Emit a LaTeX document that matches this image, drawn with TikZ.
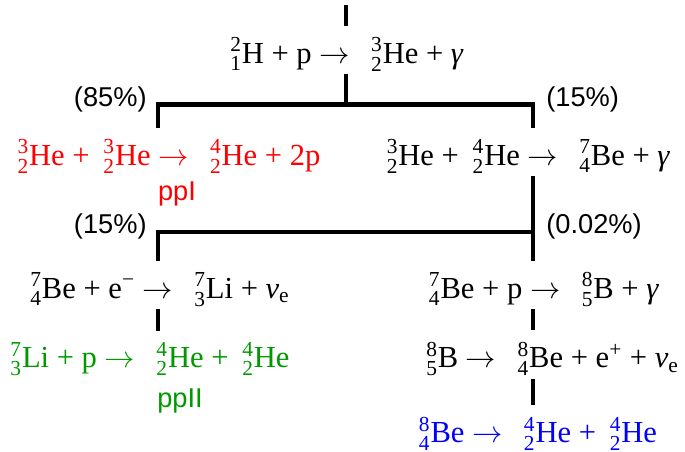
\documentclass[tikz,border=0pt]{standalone}
\usepackage{amsmath}
\usepackage{fontspec}
\setmainfont{Liberation Serif}
\newfontfamily\branchfont{Liberation Sans}
\usetikzlibrary{positioning,calc}
\definecolor{ppired}{RGB}{255,0,0}
\definecolor{ppiigreen}{RGB}{0,153,0}
\definecolor{ppiiiblue}{RGB}{0,0,255}
\newcommand{\iso}[3]{${}^{\text{#1}}_{\text{#2}}$#3}
\newcommand{\nuc}[3]{\hspace{0.45em}\iso{#1}{#2}{#3}}
\newcommand{\tto}{ $\rightarrow$ }

\begin{document}
\begin{tikzpicture}[
		reac/.style={inner sep=1.5pt, font=\fontsize{17.4}{20}\selectfont, anchor=base},
		tag/.style={inner sep=0pt, font=\branchfont\fontsize{15.5}{18}\selectfont},
		link/.style={line width=2.6pt}]
		\useasboundingbox (0,0) rectangle (13.7,9.02);
		% pp chain: first branch
		\coordinate (top) at (6.92,8.92);
		\node[reac] (dp) at (6.94,7.76) {\iso{2}{1}{H} + p\tto\nuc{3}{2}{He} + \textit{γ}};
		\coordinate (fork1) at (6.92,6.93);
		\coordinate (fork1l) at (3.16,6.93);
		\coordinate (fork1r) at (10.66,6.93);
		
		\node[reac, ppired] (hehe) at (3.38,5.72) {\iso{3}{2}{He} +\nuc{3}{2}{He}\tto\nuc{4}{2}{He} + 2p};
		\node[tag, ppired, anchor=base] (ppi) at (3.54,5.02) {ppI};
		\node[reac] (heal) at (10.57,5.72) {\iso{3}{2}{He} +\nuc{4}{2}{He}\tto\nuc{7}{4}{Be} + \textit{γ}};
		
		\draw[link, shorten >=5pt] (top) -- (top |- dp.north);
		\draw[link] (dp.south -| fork1) -- (fork1);
		\draw[link, shorten <=5pt, shorten >=5pt] (fork1l |- hehe.north) -- (fork1l) -- (fork1r) -- (fork1r |- heal.north);
		
		\node[tag, anchor=east] (p85) at (2.94,7.04) {(85\%)};
		\node[tag, anchor=west] (p15a) at (10.92,7.04) {(15\%)};
		
		% second branch
		\coordinate (fork2) at (10.66,4.38);
		\coordinate (fork2l) at (3.16,4.38);
		
		\node[reac] (bee) at (3.20,3.06) {\iso{7}{4}{Be} + e\textsuperscript{−}\tto\nuc{7}{3}{Li} + \textit{ν}${}_{\text{e}}$};
		\node[reac, ppiigreen] (lip) at (3.00,1.67) {\iso{7}{3}{Li} + p\tto\nuc{4}{2}{He} +\nuc{4}{2}{He}};
		\node[tag, ppiigreen, anchor=base] (ppii) at (3.60,0.88) {ppII};
		
		\node[reac] (bep) at (10.88,3.06) {\iso{7}{4}{Be} + p\tto\nuc{8}{5}{B} + \textit{γ}};
		\node[reac] (bdec) at (11.05,1.67) {\iso{8}{5}{B}\tto\nuc{8}{4}{Be} + e\textsuperscript{+} + \textit{ν}${}_{\text{e}}$};
		\node[reac, ppiiiblue] (bebe) at (10.76,0.17) {\iso{8}{4}{Be}\tto\nuc{4}{2}{He} +\nuc{4}{2}{He}};
		
		\draw[link, shorten >=5pt] (heal.south -| fork2) -- (fork2 |- bep.north);
		\draw[link, shorten <=5pt] (fork2l |- bee.north) -- (fork2l) -- (fork2);
		\draw[link, shorten >=5pt] (bee.south -| fork2l) -- (fork2l |- lip.north);
		\draw[link, shorten >=5pt] (bep.south -| fork2) -- (fork2 |- bdec.north);
		\draw[link, shorten >=5pt] (bdec.south -| fork2) -- (fork2 |- bebe.north);
		
		\node[tag, anchor=east] (p15b) at (2.94,4.50) {(15\%)};
		\node[tag, anchor=west] (p002) at (10.92,4.50) {(0.02\%)};
	\end{tikzpicture}
\end{document}
